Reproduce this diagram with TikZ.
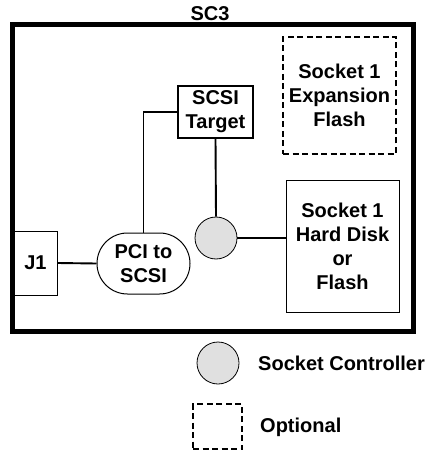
\documentclass[tikz,border=0pt]{standalone}
\usepackage{fontspec}
\setmainfont{Liberation Sans}
\usetikzlibrary{shapes.misc}

\begin{document}
\begin{tikzpicture}[x=1pt,y=-1pt,
   every node/.style={font=\fontsize{20}{24}\selectfont\bfseries,align=center,inner sep=0pt},
   block/.style={draw,line width=0.8pt},
   optblock/.style={draw,line width=1.3pt,dash pattern=on 6pt off 3.5pt},
   ctrl/.style={draw,circle,fill=black!12,line width=0.8pt,minimum size=42pt},
   link/.style={line width=1.9pt}]

\useasboundingbox (0,0) rectangle (429,454);

% board
\node [draw,line width=5pt,minimum width=401pt,minimum height=306pt] (sc3) at (212.5,178) {};
\node (sc3label) at (210,14) {SC3};

% parts on the board
\node [optblock,minimum width=113pt,minimum height=117pt] (expflash) at (339.5,95.5)
   {Socket 1\\Expansion\\Flash};
\node [block,line width=1.9pt,minimum width=75pt,minimum height=52pt] (target) at (215.5,112)
   {SCSI\\Target};
\node [block,minimum width=113pt,minimum height=132pt] (harddisk) at (342.5,246)
   {Socket 1\\Hard Disk\\or\\Flash};
\node [block,minimum width=43pt,minimum height=64pt] (jone) at (35.5,263) {J1};
\node [draw,rounded rectangle,line width=1pt,minimum width=93pt,minimum height=61pt] (pci) at (143.5,263.5)
   {PCI to\\SCSI};
\node [ctrl] (sockctl) at (216,238) {};

% connections
\draw [link] (jone.east) -- (pci.west);
\draw [link] (pci.north) |- (target.west);
\draw [link] (target.south) -- (sockctl.north);
\draw [link] (sockctl.east) -- (sockctl.east -| harddisk.west);

% legend
\node [ctrl] (keyctl) at (218,363) {};
\node [anchor=west] (keyctltext) at (258,363) {Socket Controller};
\node [optblock,line width=1.1pt,minimum width=49pt,minimum height=45pt] (keyopt) at (217.5,426.5) {};
\node [anchor=west] (keyopttext) at (260,427) {Optional};

\end{tikzpicture}
\end{document}
